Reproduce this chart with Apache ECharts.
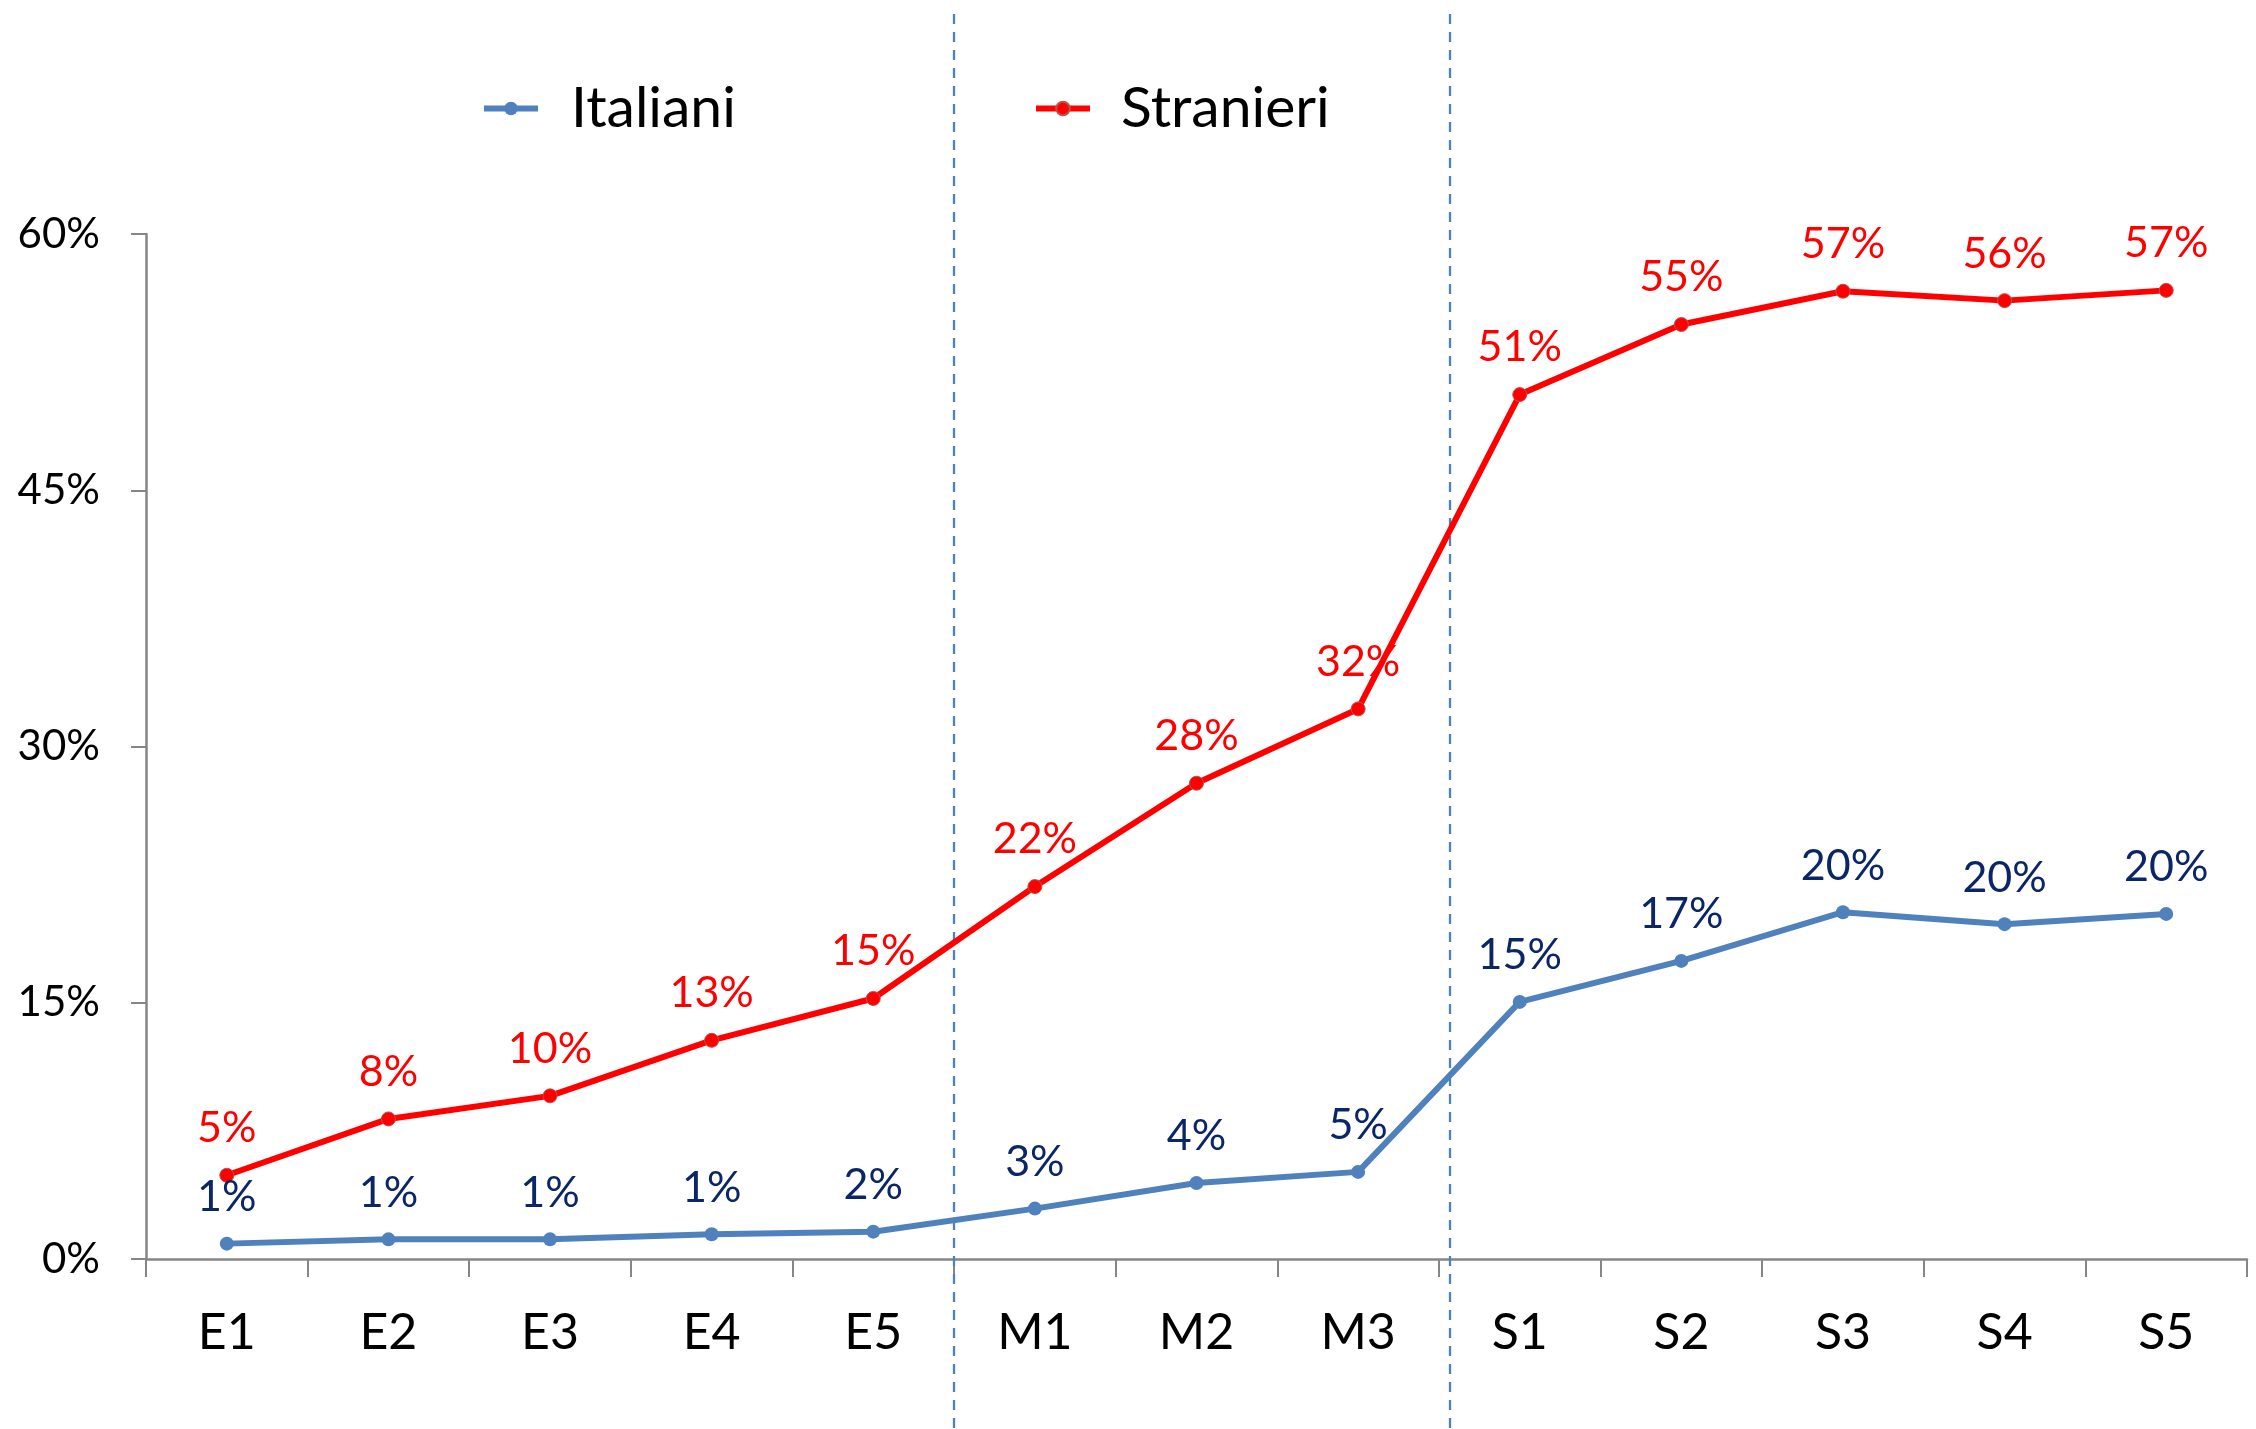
<!DOCTYPE html>
<html>
<head>
<meta charset="utf-8">
<script src="https://cdn.jsdelivr.net/npm/echarts@6/dist/echarts.min.js"></script>
<style>
  html, body { margin: 0; padding: 0; background: #fff; }
  #chart { width: 2256px; height: 1429px; }
</style>
</head>
<body>
<div id="chart"></div>
<script>
var categories = ['E1', 'E2', 'E3', 'E4', 'E5', 'M1', 'M2', 'M3', 'S1', 'S2', 'S3', 'S4', 'S5']
var italiani = [0.9, 1.15, 1.15, 1.45, 1.6, 2.95, 4.45, 5.1, 15.05, 17.45, 20.3, 19.6, 20.2]
var stranieri = [4.9, 8.2, 9.55, 12.8, 15.25, 21.8, 27.85, 32.2, 50.6, 54.7, 56.65, 56.1, 56.7]
var yMin = 0
var yMax = 60
var yStep = 15
// dashed separators go between these pairs of categories
var groupBreaks = [['E5', 'M1'], ['M3', 'S1']]

var FONT = 'Lato, sans-serif'
var AXIS_GREY = '#868686'

var chart = echarts.init(document.getElementById('chart'))

function pctLabel (p) {
  return Math.round(p.value) + '%'
}

function legendFor (name, left, gap, color) {
  return {
    data: [name],
    left: left,
    top: 75,
    itemWidth: 54,
    itemHeight: 17,
    lineStyle: { width: 6, color: color },
    itemStyle: { color: color },
    textStyle: { fontSize: 57, color: '#000', fontFamily: FONT, padding: [0, 0, 0, gap] }
  }
}

chart.setOption({
  animation: false,
  backgroundColor: '#fff',
  textStyle: { fontFamily: FONT },
  grid: { left: 146, right: 9, top: 234, bottom: 170 },
  legend: [
    legendFor('Italiani', 476, 28, '#4F81BD'),
    legendFor('Stranieri', 1028, 26, '#FF0000')
  ],
  xAxis: {
    type: 'category',
    data: categories,
    boundaryGap: true,
    axisLine: { lineStyle: { color: AXIS_GREY, width: 2.5 } },
    axisTick: { show: true, length: 18, lineStyle: { color: AXIS_GREY, width: 2 } },
    axisLabel: { fontSize: 50, color: '#000', margin: 49, fontFamily: FONT },
    splitLine: { show: false }
  },
  yAxis: {
    type: 'value',
    min: yMin,
    max: yMax,
    interval: yStep,
    axisLine: { show: true, lineStyle: { color: AXIS_GREY, width: 2.5 } },
    axisTick: { show: true, length: 15, lineStyle: { color: AXIS_GREY, width: 2 } },
    axisLabel: { fontSize: 42, color: '#000', margin: 46, formatter: '{value}%', fontFamily: FONT },
    splitLine: { show: false }
  },
  series: [
    {
      name: 'Italiani',
      type: 'line',
      data: italiani,
      symbol: 'circle',
      symbolSize: 14,
      lineStyle: { color: '#4F81BD', width: 6 },
      itemStyle: { color: '#4F81BD' },
      label: {
        show: true,
        position: 'top',
        distance: 18,
        fontSize: 43,
        color: '#0b2666',
        fontFamily: FONT,
        formatter: pctLabel
      }
    },
    {
      name: 'Stranieri',
      type: 'line',
      data: stranieri,
      symbol: 'circle',
      symbolSize: 14,
      lineStyle: { color: '#FF0000', width: 6 },
      itemStyle: { color: '#FF0000', borderColor: '#c0504d', borderWidth: 1 },
      label: {
        show: true,
        position: 'top',
        distance: 18,
        fontSize: 43,
        color: '#FF0000',
        fontFamily: FONT,
        formatter: pctLabel
      }
    }
  ]
})

// vertical dashed separators spanning the whole picture
var shifts = [0, 11]
var lines = groupBreaks.map(function (pair, i) {
  var a = chart.convertToPixel({ xAxisIndex: 0 }, pair[0])
  var b = chart.convertToPixel({ xAxisIndex: 0 }, pair[1])
  var x = Math.round((a + b) / 2) + shifts[i]
  return {
    type: 'line',
    z: 1,
    shape: { x1: x, y1: 14, x2: x, y2: 1429 },
    style: { stroke: '#4F81BD', lineWidth: 2.3, lineDash: [10, 8] }
  }
})
chart.setOption({ graphic: lines })
</script>
</body>
</html>
